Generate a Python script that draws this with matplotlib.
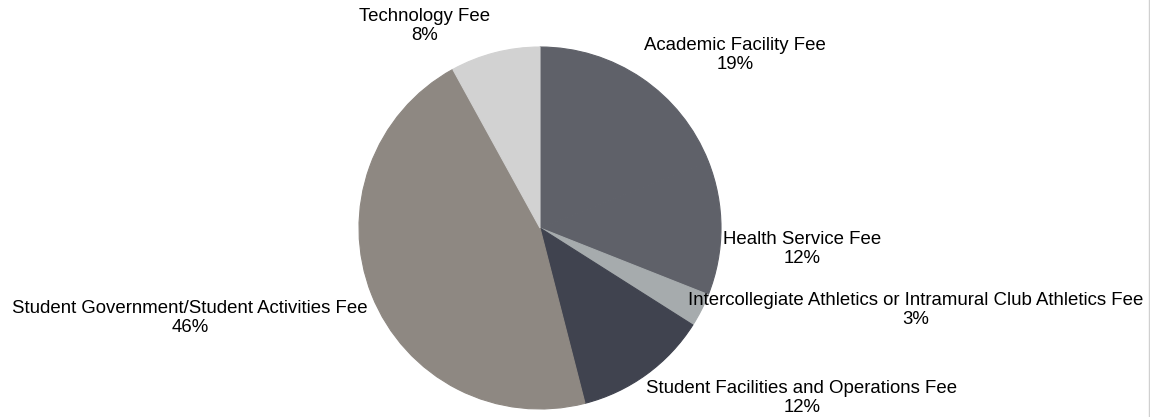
import matplotlib
matplotlib.use("Agg")
import matplotlib.pyplot as plt

categories = ["Academic Facility Fee", "Health Service Fee",
              "Intercollegiate Athletics or Intramural Club Athletics Fee",
              "Student Facilities and Operations Fee",
              "Student Government/Student Activities Fee", "Technology Fee"]
values = [19, 12, 3, 12, 46, 8]
colors = ["#5f6169", "#5f6169", "#a6abad", "#40434f", "#8e8882", "#d2d2d2"]

# label centres in pixel coordinates (layout only)
label_px = [(735, 55), (802, 249), (916, 310), (802, 398), (190, 318), (425, 26)]

W, H = 1150, 417
cx, cy, R = 540, 228, 181

plt.rcParams['font.family'] = ['Liberation Sans', 'DejaVu Sans']
fig = plt.figure(figsize=(W / 100, H / 100), dpi=100)
ax = fig.add_axes([(cx - R) / W, (H - cy - R) / H, 2 * R / W, 2 * R / H])
wedges, _ = ax.pie(values, colors=colors, startangle=90, counterclock=False,
                   wedgeprops=dict(linewidth=0.8))
for w, c in zip(wedges, colors):
    w.set_edgecolor(c)
ax.set_xlim(-1, 1)
ax.set_ylim(-1, 1)
ax.set_aspect('equal')
ax.axis('off')

for cat, v, (px, py) in zip(categories, values, label_px):
    fig.text(px / W, (H - py) / H, f"{cat}\n{v}%", ha='center', va='center',
             fontsize=13.4, color='#000000', linespacing=1.15)

fig.add_artist(plt.Line2D([1148.5 / W, 1148.5 / W], [0, 1], color='#d0d0d0', lw=1))

fig.savefig("out.png", dpi=100, facecolor='white')
